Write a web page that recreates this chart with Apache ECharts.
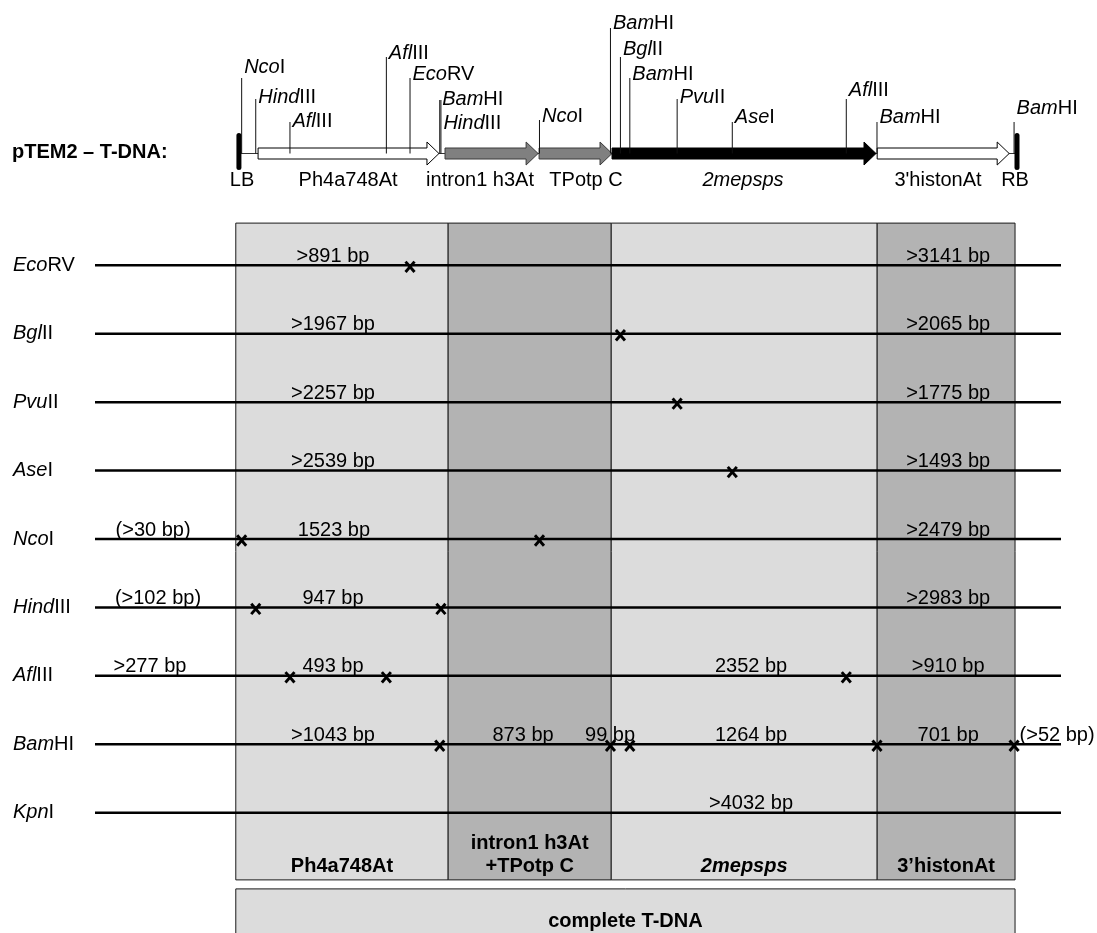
<!DOCTYPE html>
<html>
<head>
<meta charset="utf-8">
<title>pTEM2 T-DNA restriction map</title>
<script src="https://cdn.jsdelivr.net/npm/echarts@6/dist/echarts.min.js"></script>
<style>
  html, body { margin: 0; padding: 0; background: #fff; }
  #chart { width: 1097px; height: 933px; }
</style>
</head>
<body>
<div id="chart"></div>
<script>
// ---- Data (positions in bp along the T-DNA) ----
const enzymes = ['EcoRV', 'BglII', 'PvuII', 'AseI', 'NcoI', 'HindIII', 'AflIII', 'BamHI', 'KpnI'];

// Fragment lengths per enzyme, left to right
const fragmentLengths = [
  [891, 3141],
  [1967, 2065],
  [2257, 1775],
  [2539, 1493],
  [30, 1523, 2479],
  [102, 947, 2983],
  [277, 493, 2352, 910],
  [1043, 873, 99, 1264, 701, 52],
  [4032]
];
// '' exact length, '>' minimum length, '(>)' flanking minimum length
const fragmentKinds = [
  ['>', '>'],
  ['>', '>'],
  ['>', '>'],
  ['>', '>'],
  ['(>)', '', '>'],
  ['(>)', '', '>'],
  ['>', '', '', '>'],
  ['>', '', '', '', '', '(>)'],
  ['>']
];

// Genetic elements of the T-DNA
const elementNames = ['Ph4a748At', 'intron1 h3At', 'TPotp C', '2mepsps', "3'histonAt"];
const elementStart = [114, 1070, 1551, 1924, 3280];
const elementEnd = [1039, 1546, 1924, 3274, 3955];
const borderNames = ['LB', 'RB'];
const borderBp = [16, 3995];

// Probe regions shaded below the map
const regionNames = ['Ph4a748At', 'intron1 h3At\n+TPotp C', '2mepsps', '3\u2019histonAt'];
const regionStart = [0, 1086, 1920, 3280];
const regionEnd = [1086, 1920, 3280, 3985];
const completeLabel = 'complete T-DNA';

// ---- Layout ----
const AXIS_MIN = -720, AXIS_MAX = 4220;
const FONT = 'Arial, "Liberation Sans", sans-serif';
const FS = 20;
const LIGHT = '#dcdcdc', DARK = '#b3b3b3';
const MAP_Y = 153.5;

// label anchors (bp) for fragment sizes
const fragmentLabelAt = [
  [497, 3643],
  [497, 3643],
  [497, 3643],
  [497, 3643],
  [-423, 502, 3643],
  [-398, 497, 3643],
  [-439, 497, 2635, 3643],
  [497, 1469, 1914, 2635, 3643, 4200],
  [2635]
];
// map site labels: tick top and label middle (px), in site order along the map
const siteTickTop = [78, 99, 122, 57, 78, 100, 100, 120, 28, 57, 78, 99, 122, 99, 122, 122];
const siteLabelY = [67, 97, 121, 53, 74, 99, 123, 116, 23, 49, 74, 97, 117, 90, 117, 108];
const elementLabelAt = [574, 1249, 1791, 2594, 3591];
const borderLabelAt = [32, 3985];

// ---- Derived: cut positions from fragment lengths ----
const cutSites = [];   // [bp, rowIndex]
const fragLabels = []; // [anchorBp, rowIndex, text]
fragmentLengths.forEach((lens, row) => {
  let pos = 0;
  lens.forEach((len, k) => {
    const kind = fragmentKinds[row][k];
    let txt = len + ' bp';
    if (kind === '>') txt = '>' + txt;
    if (kind === '(>)') txt = '(>' + txt + ')';
    fragLabels.push([fragmentLabelAt[row][k], row, txt]);
    pos += len;
    if (k < lens.length - 1) cutSites.push([pos, row]);
  });
});
const mapSites = cutSites
  .map(c => ({ bp: c[0], name: enzymes[c[1]] }))
  .sort((a, b) => a.bp - b.bp);

function italicSplit(name) {
  const n = name.startsWith('Hind') ? 4 : 3;
  return [name.slice(0, n), name.slice(n)];
}
function enzymeRich(name) {
  const p = italicSplit(name);
  return '{i|' + p[0] + '}{n|' + p[1] + '}';
}
const richBase = {
  i: { fontStyle: 'italic', fontSize: FS, fontFamily: FONT, color: '#000' },
  n: { fontSize: FS, fontFamily: FONT, color: '#000' }
};

const chart = echarts.init(document.getElementById('chart'), null, { renderer: 'canvas' });

const option = {
  animation: false,
  backgroundColor: '#fff',
  graphic: [{
    type: 'text', x: 12, y: 152,
    style: { text: 'pTEM2 \u2013 T-DNA:', font: 'bold ' + FS + 'px ' + FONT, fill: '#000', verticalAlign: 'middle' }
  }],
  grid: [
    { left: 95, right: 36, top: 231.1, height: 615.8 },
    { left: 95, right: 36, top: 0, height: 200 }
  ],
  xAxis: [
    { gridIndex: 0, type: 'value', min: AXIS_MIN, max: AXIS_MAX, show: false },
    { gridIndex: 1, type: 'value', min: AXIS_MIN, max: AXIS_MAX, show: false }
  ],
  yAxis: [
    {
      gridIndex: 0, type: 'category', data: enzymes, inverse: true,
      axisLine: { show: false }, axisTick: { show: false }, splitLine: { show: false },
      axisLabel: { align: 'left', margin: 82, formatter: v => enzymeRich(v), rich: richBase }
    },
    { gridIndex: 1, type: 'value', min: 0, max: 200, inverse: true, show: false }
  ],
  series: [
    // shaded element regions
    {
      type: 'custom', xAxisIndex: 0, yAxisIndex: 0, z: 1, silent: true,
      data: regionStart.map((s, i) => [s, regionEnd[i], 0]),
      encode: { x: [0, 1], y: 2 },
      renderItem(params, api) {
        const i = params.dataIndex;
        const cs = params.coordSys;
        const x0 = api.coord([api.value(0), 0])[0];
        const x1 = api.coord([api.value(1), 0])[0];
        const top = cs.y - 8, bottom = cs.y + cs.height + 33;
        const italic = regionNames[i] === '2mepsps';
        return {
          type: 'group',
          children: [
            { type: 'rect', shape: { x: x0, y: top, width: x1 - x0, height: bottom - top },
              style: { fill: i % 2 ? DARK : LIGHT, stroke: '#1a1a1a', lineWidth: 1 } },
            { type: 'text',
              style: { text: regionNames[i], x: (x0 + x1) / 2, y: bottom - 2,
                align: 'center', verticalAlign: 'bottom', lineHeight: 23,
                font: (italic ? 'italic ' : '') + 'bold ' + FS + 'px ' + FONT, fill: '#000' } }
          ]
        };
      }
    },
    // complete T-DNA bar
    {
      type: 'custom', xAxisIndex: 0, yAxisIndex: 0, z: 1, silent: true,
      data: [[regionStart[0], regionEnd[regionEnd.length - 1], 0]],
      encode: { x: [0, 1], y: 2 },
      renderItem(params, api) {
        const cs = params.coordSys;
        const x0 = api.coord([api.value(0), 0])[0];
        const x1 = api.coord([api.value(1), 0])[0];
        const top = cs.y + cs.height + 42;
        return {
          type: 'group',
          children: [
            { type: 'rect', shape: { x: x0, y: top, width: x1 - x0, height: 70 },
              style: { fill: LIGHT, stroke: '#1a1a1a', lineWidth: 1 } },
            { type: 'text',
              style: { text: completeLabel, x: (x0 + x1) / 2, y: top + 33, align: 'center',
                verticalAlign: 'middle', font: 'bold ' + FS + 'px ' + FONT, fill: '#000' } }
          ]
        };
      }
    },
    // restriction digest lines
    {
      type: 'custom', xAxisIndex: 0, yAxisIndex: 0, z: 2, silent: true,
      data: enzymes.map((e, i) => [AXIS_MIN, AXIS_MAX, i]),
      encode: { x: [0, 1], y: 2 },
      renderItem(params, api) {
        const a = api.coord([api.value(0), api.value(2)]);
        const b = api.coord([api.value(1), api.value(2)]);
        return { type: 'line', shape: { x1: a[0], y1: a[1], x2: b[0], y2: b[1] },
          style: { stroke: '#000', lineWidth: 2.5 } };
      }
    },
    // fragment size labels
    {
      type: 'custom', xAxisIndex: 0, yAxisIndex: 0, z: 3, silent: true,
      data: fragLabels,
      encode: { x: 0, y: 1 },
      renderItem(params, api) {
        const p = api.coord([api.value(0), api.value(1)]);
        return { type: 'text',
          style: { text: fragLabels[params.dataIndex][2], x: p[0], y: p[1] + 1,
            align: 'center', verticalAlign: 'bottom', font: FS + 'px ' + FONT, fill: '#000' } };
      }
    },
    // cut sites
    {
      type: 'custom', xAxisIndex: 0, yAxisIndex: 0, z: 4, silent: true,
      data: cutSites,
      encode: { x: 0, y: 1 },
      renderItem(params, api) {
        const p = api.coord([api.value(0), api.value(1)]);
        const cx = p[0], cy = p[1] + 1.5, w = 4.5, h = 5.2;
        const st = { stroke: '#000', lineWidth: 2.9 };
        return { type: 'group', children: [
          { type: 'line', shape: { x1: cx - w, y1: cy - h, x2: cx + w, y2: cy + h }, style: st },
          { type: 'line', shape: { x1: cx + w, y1: cy - h, x2: cx - w, y2: cy + h }, style: st }
        ] };
      }
    },
    // map backbone and borders
    {
      type: 'custom', xAxisIndex: 1, yAxisIndex: 1, z: 2, silent: true,
      data: borderBp.map((b, i) => [b, MAP_Y]),
      encode: { x: 0, y: 1 },
      renderItem(params, api) {
        const i = params.dataIndex;
        const p = api.coord([api.value(0), api.value(1)]);
        const children = [
          { type: 'line', shape: { x1: p[0], y1: p[1] - 18, x2: p[0], y2: p[1] + 14 },
            style: { stroke: '#000', lineWidth: 5, lineCap: 'round' } },
          { type: 'text', style: { text: borderNames[i], x: api.coord([borderLabelAt[i], 0])[0], y: 180,
            align: 'center', verticalAlign: 'middle', font: FS + 'px ' + FONT, fill: '#000' } }
        ];
        if (i === 0) {
          const q = api.coord([borderBp[1], api.value(1)]);
          children.unshift({ type: 'line', shape: { x1: p[0], y1: p[1], x2: q[0], y2: q[1] },
            style: { stroke: '#333', lineWidth: 1 } });
        }
        return { type: 'group', children };
      }
    },
    // map elements as arrows
    {
      type: 'custom', xAxisIndex: 1, yAxisIndex: 1, z: 3, silent: true,
      data: elementStart.map((s, i) => [s, elementEnd[i], MAP_Y]),
      encode: { x: [0, 1], y: 2 },
      renderItem(params, api) {
        const i = params.dataIndex;
        const x0 = api.coord([api.value(0), 0])[0];
        const x1 = api.coord([api.value(1), 0])[0];
        const yc = api.coord([0, api.value(2)])[1];
        const h = 5.5, hh = 11.5, L = 12;
        const fills = ['#fff', '#808080', '#808080', '#000', '#fff'];
        const strokes = ['#000', '#3a3a3a', '#3a3a3a', '#000', '#000'];
        const pts = [[x0, yc - h], [x1 - L, yc - h], [x1 - L, yc - hh], [x1, yc],
          [x1 - L, yc + hh], [x1 - L, yc + h], [x0, yc + h]];
        const italic = elementNames[i] === '2mepsps';
        return { type: 'group', children: [
          { type: 'polygon', shape: { points: pts }, style: { fill: fills[i], stroke: strokes[i], lineWidth: 1 } },
          { type: 'text', style: { text: elementNames[i], x: api.coord([elementLabelAt[i], 0])[0], y: 180,
            align: 'center', verticalAlign: 'middle',
            font: (italic ? 'italic ' : '') + FS + 'px ' + FONT, fill: '#000' } }
        ] };
      }
    },
    // restriction sites on the map
    {
      type: 'custom', xAxisIndex: 1, yAxisIndex: 1, z: 4, silent: true,
      data: mapSites.map(s => [s.bp, MAP_Y]),
      encode: { x: 0, y: 1 },
      renderItem(params, api) {
        const i = params.dataIndex;
        const p = api.coord([api.value(0), api.value(1)]);
        return { type: 'group', children: [
          { type: 'line', shape: { x1: p[0], y1: siteTickTop[i], x2: p[0], y2: p[1] },
            style: { stroke: '#111', lineWidth: 1 } },
          { type: 'text', style: { text: enzymeRich(mapSites[i].name), rich: richBase,
            x: p[0] + 2.5, y: siteLabelY[i], align: 'left', verticalAlign: 'middle',
            font: FS + 'px ' + FONT, fill: '#000' } }
        ] };
      }
    }
  ]
};

chart.setOption(option);
</script>
</body>
</html>
